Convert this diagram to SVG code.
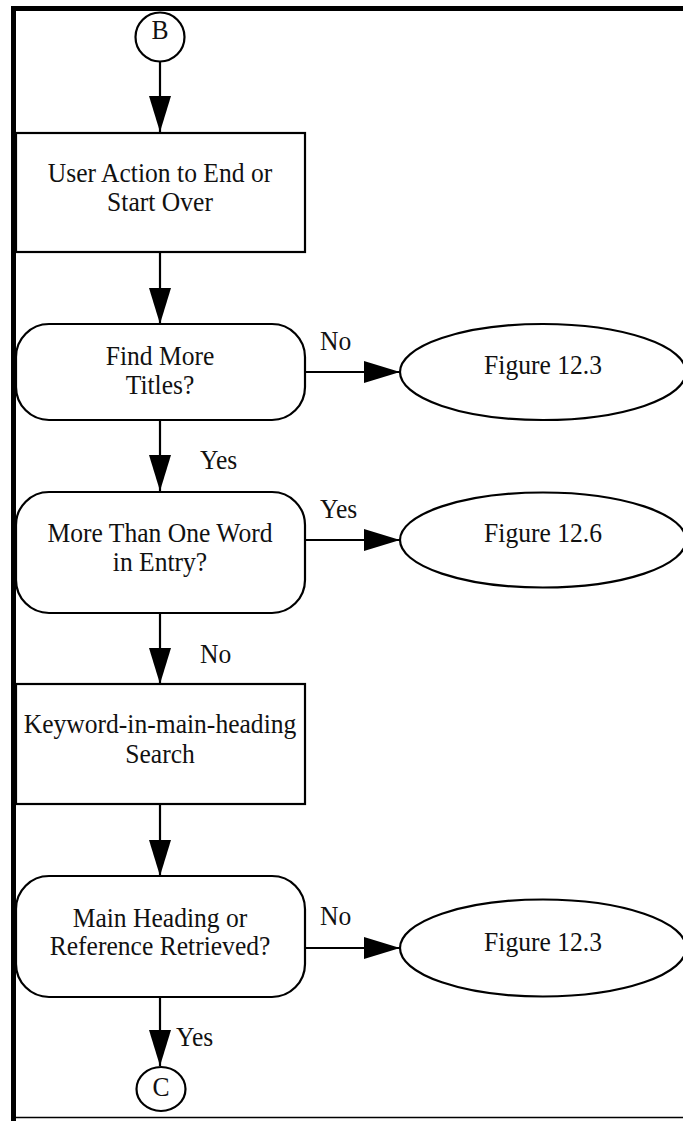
<svg xmlns="http://www.w3.org/2000/svg" width="683" height="1121" viewBox="0 0 683 1121">
  <style>
    .shape { fill: #fff; stroke: #000; stroke-width: 2.2; }
    .line { fill: none; stroke: #000; stroke-width: 2.2; }
    .t { font-family: "Liberation Serif", "Times New Roman", serif; font-size: 27.5px; fill: #111; text-anchor: middle; }
    .lbl { font-family: "Liberation Serif", "Times New Roman", serif; font-size: 27.5px; fill: #111; }
  </style>
  <defs>
    <marker id="arrow" viewBox="0 0 36 22" refX="36" refY="11" markerWidth="36" markerHeight="22" markerUnits="userSpaceOnUse" orient="auto">
      <path d="M0,0 L36,11 L0,22 Z" fill="#000"/>
    </marker>
  </defs>

  <rect width="683" height="1121" fill="#fff"/>

  <!-- page frame -->
  <g id="frame">
    <line x1="11" y1="8.5" x2="683" y2="8.5" stroke="#000" stroke-width="5"/>
    <line x1="13.5" y1="6" x2="13.5" y2="1121" stroke="#000" stroke-width="5"/>
    <line x1="11" y1="1117.5" x2="683" y2="1117.5" stroke="#000" stroke-width="1.5"/>
  </g>

  <!-- connectors; text is set slightly condensed via scale(0.93 1) -->
  <g id="connectors">
    <line class="line" x1="160" y1="61" x2="160" y2="132" marker-end="url(#arrow)"/>
    <line class="line" x1="160" y1="252" x2="160" y2="324" marker-end="url(#arrow)"/>
    <line class="line" x1="305" y1="372" x2="400" y2="372" marker-end="url(#arrow)"/>
    <line class="line" x1="160" y1="420" x2="160" y2="491" marker-end="url(#arrow)"/>
    <line class="line" x1="305" y1="540" x2="400" y2="540" marker-end="url(#arrow)"/>
    <line class="line" x1="160" y1="613" x2="160" y2="684" marker-end="url(#arrow)"/>
    <line class="line" x1="160" y1="804" x2="160" y2="876" marker-end="url(#arrow)"/>
    <line class="line" x1="305" y1="948" x2="400" y2="948" marker-end="url(#arrow)"/>
    <line class="line" x1="160" y1="997" x2="160" y2="1066" marker-end="url(#arrow)"/>
    <text class="lbl" transform="translate(320 350) scale(0.93 1)">No</text>
    <text class="lbl" transform="translate(200 469) scale(0.93 1)">Yes</text>
    <text class="lbl" transform="translate(320 518) scale(0.93 1)">Yes</text>
    <text class="lbl" transform="translate(200 663) scale(0.93 1)">No</text>
    <text class="lbl" transform="translate(320 925) scale(0.93 1)">No</text>
    <text class="lbl" transform="translate(176 1046) scale(0.93 1)">Yes</text>
  </g>

  <g id="connector-b">
    <circle class="shape" cx="160" cy="37" r="24.5"/>
    <text class="t" transform="translate(160 39) scale(0.93 1)">B</text>
  </g>

  <g id="user-action">
    <rect class="shape" x="16" y="133" width="289" height="119"/>
    <text class="t" transform="translate(160 182) scale(0.93 1)">User Action to End or</text>
    <text class="t" transform="translate(160 211) scale(0.93 1)">Start Over</text>
  </g>

  <g id="find-more-titles">
    <rect class="shape" x="16" y="324" width="289" height="96" rx="33" ry="33"/>
    <text class="t" transform="translate(160 365) scale(0.93 1)">Find More</text>
    <text class="t" transform="translate(160 394) scale(0.93 1)">Titles?</text>
  </g>

  <g id="figure-12-3-a">
    <ellipse class="shape" cx="543" cy="372" rx="143" ry="48"/>
    <text class="t" transform="translate(543 374) scale(0.93 1)">Figure 12.3</text>
  </g>

  <g id="more-than-one-word">
    <rect class="shape" x="16" y="492" width="289" height="121" rx="33" ry="33"/>
    <text class="t" transform="translate(160 542) scale(0.93 1)">More Than One Word</text>
    <text class="t" transform="translate(160 571) scale(0.93 1)">in Entry?</text>
  </g>

  <g id="figure-12-6">
    <ellipse class="shape" cx="543" cy="540" rx="143" ry="47.5"/>
    <text class="t" transform="translate(543 542) scale(0.93 1)">Figure 12.6</text>
  </g>

  <g id="keyword-search">
    <rect class="shape" x="16" y="684" width="289" height="120"/>
    <text class="t" transform="translate(160 733) scale(0.93 1)">Keyword-in-main-heading</text>
    <text class="t" transform="translate(160 763) scale(0.93 1)">Search</text>
  </g>

  <g id="main-heading-retrieved">
    <rect class="shape" x="16" y="876" width="289" height="121" rx="33" ry="33"/>
    <text class="t" transform="translate(160 927) scale(0.93 1)">Main Heading or</text>
    <text class="t" transform="translate(160 955) scale(0.93 1)">Reference Retrieved?</text>
  </g>

  <g id="figure-12-3-b">
    <ellipse class="shape" cx="543" cy="948" rx="143" ry="48.5"/>
    <text class="t" transform="translate(543 951) scale(0.93 1)">Figure 12.3</text>
  </g>

  <g id="connector-c">
    <ellipse class="shape" cx="161" cy="1089" rx="24.5" ry="22"/>
    <text class="t" transform="translate(161 1096) scale(0.93 1)">C</text>
  </g>
</svg>
